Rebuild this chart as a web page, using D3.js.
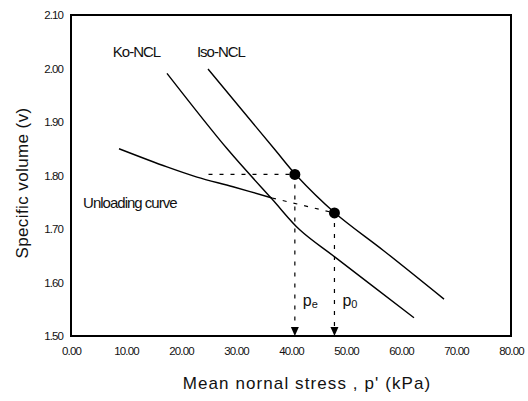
<!DOCTYPE html>
<html>
<head>
<meta charset="utf-8">
<script src="https://cdn.jsdelivr.net/npm/d3@7"></script>
<style>
  body { margin: 0; background: #fff; }
  svg { display: block; }
  text { font-family: "Liberation Sans", Arial, sans-serif; fill: #111; }
</style>
</head>
<body>
<svg id="svg" width="528" height="401"></svg>
<script>
// values: [p' (kPa), v]
const koNcl = [[17.45, 1.991], [28.55, 1.848], [36.55, 1.756], [41.64, 1.698], [48.18, 1.646], [62.36, 1.534]];
const isoNcl = [[24.91, 1.999], [37.09, 1.848], [40.91, 1.801], [48.0, 1.730], [56.91, 1.659], [67.82, 1.569]];
const unloading = [[8.73, 1.850], [17.45, 1.816], [22.91, 1.797], [29.45, 1.779], [36.55, 1.758]];
const dashedLinks = [
    [[25.0, 1.802], [40.7, 1.802]],
    [[36.55, 1.758], [47.9, 1.730]]
];
const stressPoints = [
    {name: "p", sub: "e", x: 40.7, v: 1.802},
    {name: "p", sub: "0", x: 47.9, v: 1.730}
];
const curveLabels = [
    {text: "Ko-NCL", x: 7.6, v: 2.021},
    {text: "Iso-NCL", x: 22.9, v: 2.021},
    {text: "Unloading curve", x: 2.2, v: 1.740}
];
const xTicks = [0, 10, 20, 30, 40, 50, 60, 70, 80];
const yTicks = [1.5, 1.6, 1.7, 1.8, 1.9, 2.0, 2.1];

const margin = {top: 15, right: 17, bottom: 65, left: 71};
const width = 528 - margin.left - margin.right;
const height = 401 - margin.top - margin.bottom;

const x = d3.scaleLinear().domain([0, 80]).range([0, width]);
const y = d3.scaleLinear().domain([1.5, 2.1]).range([height, 0]);

const svg = d3.select("#svg");
const g = svg.append("g").attr("transform", `translate(${margin.left},${margin.top})`);

// axes: labels only, no visible tick marks
const xAxis = g.append("g")
    .attr("transform", `translate(0,${height})`)
    .call(d3.axisBottom(x).tickValues(xTicks).tickSize(0).tickPadding(11).tickFormat(d3.format(".2f")));
const yAxis = g.append("g")
    .call(d3.axisLeft(y).tickValues(yTicks).tickSize(0).tickPadding(8).tickFormat(d3.format(".2f")));
[xAxis, yAxis].forEach(a => {
    a.select(".domain").remove();
    a.selectAll("text")
        .style("font-family", "'Liberation Sans', Arial, sans-serif")
        .style("font-size", "11.5px")
        .style("letter-spacing", "-0.9px")
        .attr("fill", "#111");
});

// frame
g.append("rect")
    .attr("x", 0).attr("y", 0)
    .attr("width", width).attr("height", height)
    .attr("fill", "none")
    .attr("stroke", "#000")
    .attr("stroke-width", 2);

const line = d3.line().x(d => x(d[0])).y(d => y(d[1])).curve(d3.curveCatmullRom.alpha(0.5));

[koNcl, isoNcl, unloading].forEach(data => {
    g.append("path")
        .datum(data)
        .attr("d", line)
        .attr("fill", "none")
        .attr("stroke", "#000")
        .attr("stroke-width", 1.4);
});

// dashed guides
const dash = "4,7";
dashedLinks.forEach(seg => {
    g.append("path")
        .datum(seg)
        .attr("d", d3.line().x(d => x(d[0])).y(d => y(d[1])))
        .attr("fill", "none")
        .attr("stroke", "#000")
        .attr("stroke-width", 1.2)
        .attr("stroke-dasharray", dash);
});

g.selectAll("line.drop")
    .data(stressPoints)
    .enter()
    .append("line")
    .attr("class", "drop")
    .attr("x1", d => x(d.x)).attr("x2", d => x(d.x))
    .attr("y1", d => y(d.v) + 10)
    .attr("y2", height - 8)
    .attr("stroke", "#000")
    .attr("stroke-width", 1.2)
    .attr("stroke-dasharray", dash);

// arrow heads on the p' axis
g.selectAll("path.arrow")
    .data(stressPoints)
    .enter()
    .append("path")
    .attr("class", "arrow")
    .attr("d", d => {
        const cx = x(d.x);
        return `M${cx - 4},${height - 9} L${cx + 4},${height - 9} L${cx},${height} Z`;
    })
    .attr("fill", "#000");

g.selectAll("circle.pt")
    .data(stressPoints)
    .enter()
    .append("circle")
    .attr("class", "pt")
    .attr("cx", d => x(d.x))
    .attr("cy", d => y(d.v))
    .attr("r", 5.5)
    .attr("fill", "#000");

// p_e and p_0 labels
const pLabels = g.selectAll("text.plabel")
    .data(stressPoints)
    .enter()
    .append("text")
    .attr("class", "plabel")
    .attr("x", d => x(d.x) + 8)
    .attr("y", y(1.556))
    .style("font-size", "16px");
pLabels.append("tspan").text(d => d.name);
pLabels.append("tspan")
    .attr("dy", 2)
    .style("font-size", "11px")
    .text(d => d.sub);

g.selectAll("text.curve")
    .data(curveLabels)
    .enter()
    .append("text")
    .attr("class", "curve")
    .attr("x", d => x(d.x))
    .attr("y", d => y(d.v))
    .style("font-size", "15px")
    .style("letter-spacing", "-1px")
    .text(d => d.text);

// axis titles
svg.append("text")
    .attr("x", 307)
    .attr("y", 389)
    .attr("text-anchor", "middle")
    .style("font-size", "17px")
    .style("letter-spacing", "1.1px")
    .text("Mean nornal stress , p' (kPa)");

svg.append("text")
    .attr("transform", `translate(28,183) rotate(-90)`)
    .attr("text-anchor", "middle")
    .style("font-size", "17px")
    .style("letter-spacing", "0.4px")
    .text("Specific volume (v)");
</script>
</body>
</html>
